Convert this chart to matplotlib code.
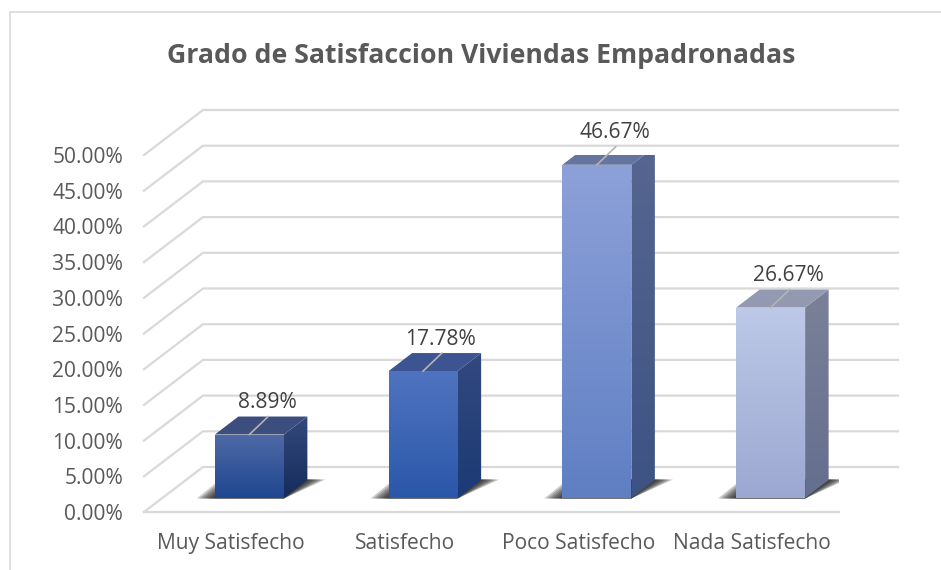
import matplotlib
matplotlib.use("Agg")
import matplotlib.pyplot as plt
import numpy as np
from matplotlib.lines import Line2D
from matplotlib.patches import Polygon

plt.rcParams['font.family'] = ['Open Sans', 'DejaVu Sans']

categorias = ["Muy Satisfecho", "Satisfecho", "Poco Satisfecho", "Nada Satisfecho"]
valores = [8.89, 17.78, 46.67, 26.67]
ticks_y = [0, 5, 10, 15, 20, 25, 30, 35, 40, 45, 50]

# colores: cara frontal (arriba, abajo), lateral (arriba, abajo), tapa
frente = [("#4f69a6", "#1f4790"), ("#4f74bf", "#2b57aa"), ("#8da1d9", "#5f7fc3"), ("#bdc9e7", "#9ca8d1")]
lateral = [("#34497c", "#142c5c"), ("#33497f", "#1b3a75"), ("#566690", "#3d5384"), ("#7b8198", "#646e8e")]
tapa = ["#3b4e7e", "#3c5491", "#65759f", "#9299b0"]

# profundidad en unidades de datos (1 categoria = 173.75 px, 1% = 7.14 px)
PX_X = 1 / 173.75
PX_Y = 1 / 7.14
piso_dx, piso_dy = 59 * PX_X, 45 * PX_Y
barra_dx, barra_dy = 23.5 * PX_X, 18 * PX_Y
ancho = 69 * PX_X
base = 14 * PX_Y
corrimiento = 18.5 * PX_X

fig = plt.figure(figsize=(9.41, 5.70), dpi=100)
ax = fig.add_axes([144 / 941, 58 / 570, 695 / 941, 357 / 570])
ax.set_xlim(-0.5, 3.5)
ax.set_ylim(0, 50)
for s in ax.spines.values():
    s.set_visible(False)

# borde del grafico
fig.add_artist(Line2D([9.5 / 941, 9.5 / 941, 1], [0, 558.5 / 570, 558.5 / 570], color="#d9d9d9", lw=1.2))

# rejilla en perspectiva
gris = "#d9d9d9"
for t in ticks_y:
    ax.plot([-0.5, -0.5 + piso_dx, 3.5 + piso_dx], [t, t + piso_dy, t + piso_dy],
            color=gris, lw=1.6, clip_on=False, zorder=1)
ax.plot([-0.5, 3.5], [0, 0], color=gris, lw=1.6, clip_on=False, zorder=1)


def cara(puntos, c1, c2, z):
    # cara con degradado vertical recortada al poligono
    puntos = np.array(puntos)
    pol = Polygon(puntos, closed=True, fc="none", ec="none", transform=ax.transData)
    ax.add_patch(pol)
    grad = np.linspace(0, 1, 128).reshape(-1, 1)
    a = np.array(matplotlib.colors.to_rgb(c1))
    b = np.array(matplotlib.colors.to_rgb(c2))
    img = (a + (b - a) * grad)[:, np.newaxis, :]
    im = ax.imshow(img, extent=[puntos[:, 0].min(), puntos[:, 0].max(), puntos[:, 1].min(), puntos[:, 1].max()],
                   aspect="auto", origin="upper", zorder=z, clip_on=True, interpolation="nearest")
    im.set_clip_path(pol)


for i, v in enumerate(valores):
    x0 = i + corrimiento - ancho / 2
    x1 = i + corrimiento + ancho / 2
    y0 = base
    y1 = base + v

    # sombra difusa en el piso
    for k in range(8):
        m = (7 - k) * 2.6
        sombra = [(x0 - m * PX_X, y0 - 0.5 * PX_Y),
                  (x1, y0 - 0.5 * PX_Y),
                  (x1 + barra_dx + m * PX_X, y0 + barra_dy + 0.5 * PX_Y),
                  (x0 + barra_dx - m * PX_X, y0 + barra_dy + 0.5 * PX_Y)]
        ax.add_patch(Polygon(sombra, closed=True, fc="#1c1c1c", ec="none", alpha=0.22, zorder=2))

    cara([(x1, y0), (x1 + barra_dx, y0 + barra_dy), (x1 + barra_dx, y1 + barra_dy), (x1, y1)],
         lateral[i][0], lateral[i][1], 3)
    ax.add_patch(Polygon([(x0, y1), (x1, y1), (x1 + barra_dx, y1 + barra_dy), (x0 + barra_dx, y1 + barra_dy)],
                         closed=True, fc=tapa[i], ec="none", zorder=3))
    cara([(x0, y0), (x1, y0), (x1, y1), (x0, y1)], frente[i][0], frente[i][1], 4)

    # linea guia de la etiqueta
    xc = i + corrimiento
    ax.plot([xc, xc + barra_dx * 0.8], [y1, y1 + barra_dy], color="#b4b4b0", lw=1.2, zorder=5, clip_on=False)
    ax.text(xc + barra_dx * 0.75, y1 + barra_dy + 14 * PX_Y, f"{v:.2f}%", ha="center", va="center",
            fontsize=15.1, color="#404040", zorder=6)

ax.set_xlim(-0.5, 3.5)
ax.set_ylim(0, 50)
ax.set_xticks(range(len(categorias)))
ax.set_xticklabels(categorias, fontsize=15.1, color="#595959")
ax.set_yticks(ticks_y)
ax.set_yticklabels([f"{t:.2f}%" for t in ticks_y], fontsize=15.1, color="#595959")
ax.tick_params(axis="x", length=0, pad=15)
ax.tick_params(axis="y", length=0, pad=15)

fig.text(481.5 / 941, 1 - 56 / 570, "Grado de Satisfaccion Viviendas Empadronadas", ha="center", va="center",
         fontsize=19.2, fontweight="bold", color="#595959")

fig.savefig("out.png", dpi=100)
